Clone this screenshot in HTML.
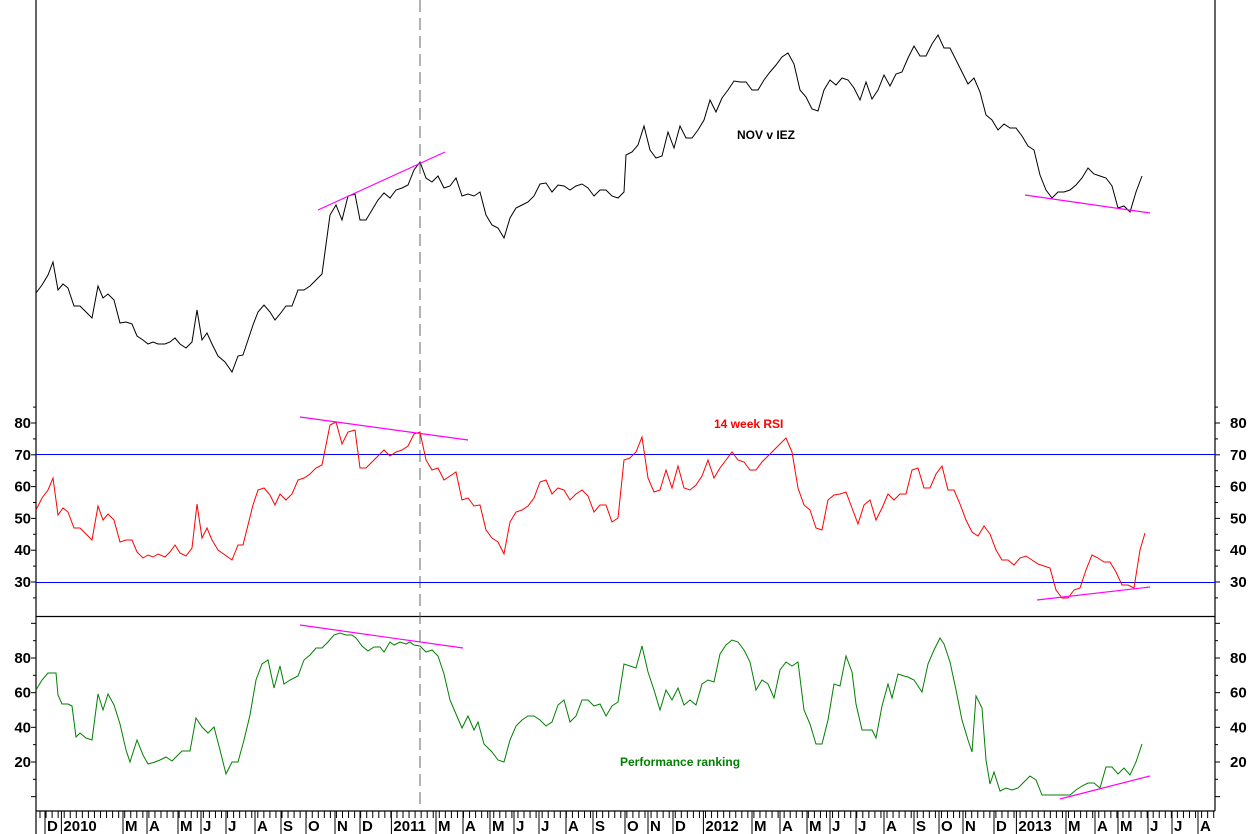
<!DOCTYPE html>
<html><head><meta charset="utf-8"><style>
body{margin:0;background:#fff}svg{display:block}
text{font-family:"Liberation Sans",Arial,sans-serif;font-weight:bold}
</style></head><body>
<svg id="s" width="1250" height="834" xmlns="http://www.w3.org/2000/svg">
<rect width="1250" height="834" fill="#fff"/>
<g stroke="#000" stroke-width="1.2" fill="none">
<line x1="36" y1="0" x2="36" y2="834"/>
<line x1="1215" y1="0" x2="1215" y2="811"/>
<line x1="36" y1="616.5" x2="1215" y2="616.5"/>
<line x1="36" y1="811" x2="1215" y2="811"/>
</g>
<line x1="420" y1="0" x2="420" y2="811" stroke="#666" stroke-dasharray="12,6"/>
<g stroke="#0000ff" stroke-width="1"><line x1="36" y1="454.5" x2="1215" y2="454.5"/><line x1="36" y1="582.5" x2="1215" y2="582.5"/></g>
<g id="ticks" stroke="#000" stroke-width="1"></g>
<g id="labels" font-size="15" fill="#000"></g>
<polyline fill="none" stroke="#000" stroke-width="1" points="36,293 42,285 48,275 53,262 58,290 63,284 68,288 74,306 80,306 86,312 92,318 98,286 103,298 108,294 114,300 120,323 126,322 132,324 137,336 143,340 148,344 153,342 158,344 165,344 170,342 175,338 180,344 186,348 192,342 197,310 202,340 207,333 212,344 218,356 225,362 232,372 238,356 243,355 248,340 253,325 258,312 264,305 270,312 275,320 280,314 286,306 292,306 298,290 304,290 310,286 316,280 322,274 330,215 336,205 342,220 348,196 355,194 360,220 366,220 372,210 378,200 384,193 390,198 396,190 402,188 408,185 414,170 420,162 426,178 432,182 438,176 444,188 450,186 456,178 462,196 468,194 474,196 480,192 486,215 492,225 498,228 504,238 510,218 516,208 522,205 528,202 534,196 540,184 546,183 552,192 558,185 564,186 570,190 576,186 582,184 588,188 594,196 600,190 606,190 612,196 618,198 624,192 626,155 632,152 638,145 644,126 650,150 656,158 662,156 668,132 674,148 680,126 686,138 692,138 698,130 704,120 710,100 716,112 722,98 728,90 734,81 740,82 746,82 752,90 758,90 764,80 770,72 776,65 782,57 788,53 794,64 800,90 806,97 812,109 818,111 824,90 830,80 836,85 842,78 848,80 854,88 860,100 866,82 872,99 878,90 884,75 890,86 896,74 902,72 908,58 914,46 920,56 926,56 932,44 938,35 944,48 950,48 956,60 962,72 968,84 974,78 980,92 986,115 992,120 998,130 1004,124 1010,128 1016,128 1022,136 1028,146 1034,150 1040,175 1046,190 1052,198 1058,192 1064,192 1070,190 1076,185 1082,178 1088,168 1094,174 1100,176 1106,178 1112,186 1118,208 1124,206 1130,212 1136,192 1142,176"/>
<polyline fill="none" stroke="#ff0000" stroke-width="1" points="36,510 42,498 48,490 53,478 58,515 63,508 68,512 74,528 80,528 86,534 92,540 98,506 103,520 108,514 114,520 120,542 126,540 132,540 137,552 143,558 148,555 153,557 158,554 165,557 170,552 175,545 180,553 186,556 192,548 197,504 202,538 207,528 212,540 218,550 225,555 232,560 238,545 243,545 248,525 253,505 258,490 264,488 270,495 275,505 280,494 286,500 292,494 298,480 304,478 310,474 316,468 322,465 330,425 336,422 342,444 348,432 355,430 360,468 366,468 372,462 378,456 384,450 390,456 396,452 402,450 408,446 414,434 420,432 426,460 432,470 438,468 444,480 450,476 456,472 462,500 468,498 474,506 480,505 486,530 492,538 498,542 504,554 510,522 516,512 522,510 528,506 534,498 540,482 546,480 552,494 558,488 564,490 570,500 576,494 582,490 588,496 594,512 600,505 606,505 612,522 618,518 624,460 630,458 636,452 642,437 648,478 654,492 660,490 666,470 672,488 678,466 684,488 690,490 696,485 702,476 708,460 714,478 720,468 726,460 732,452 738,460 744,462 750,470 756,470 762,462 768,456 774,450 780,444 786,438 792,452 798,488 804,505 810,510 816,528 822,530 828,500 834,495 840,494 846,492 852,508 858,524 864,505 870,500 876,520 882,508 888,494 894,500 900,494 906,494 912,470 918,468 924,488 930,488 936,474 942,466 948,490 954,490 960,504 966,520 972,532 978,536 984,526 990,534 996,550 1002,560 1008,560 1014,565 1020,558 1026,556 1032,560 1038,564 1044,566 1050,568 1056,590 1062,598 1068,598 1074,590 1080,588 1086,570 1092,555 1098,558 1104,562 1110,562 1116,572 1122,585 1128,585 1134,588 1140,550 1145,533"/>
<polyline fill="none" stroke="#008000" stroke-width="1" points="36,690 42,680 48,673 56,673 58,695 62,704 68,704 72,706 76,737 80,733 86,738 92,740 98,694 103,710 108,694 114,705 120,724 126,750 130,762 137,740 143,755 148,764 155,762 160,760 166,757 172,761 178,755 182,751 190,751 196,718 202,727 208,733 214,727 220,750 226,774 232,762 238,762 244,740 250,715 256,680 262,664 268,660 274,688 280,666 284,684 290,680 298,676 304,660 310,655 316,648 322,648 328,642 334,635 340,633 346,635 352,635 356,638 362,646 368,651 374,647 380,647 384,652 390,642 394,645 400,642 406,644 410,642 414,645 420,646 426,652 432,650 438,656 444,674 450,700 456,714 462,728 468,716 474,730 478,722 484,744 492,752 498,760 504,762 510,740 516,726 522,720 528,716 534,716 540,720 546,726 552,722 558,705 564,700 570,722 576,716 582,700 588,700 594,706 600,704 606,716 612,706 618,702 624,664 630,666 636,668 642,646 648,672 654,690 660,710 666,690 672,700 678,688 684,705 690,700 696,705 702,684 708,680 714,682 720,654 726,645 732,640 738,642 744,650 750,662 756,690 762,680 768,684 774,698 780,670 786,662 792,666 798,662 804,710 810,724 816,744 822,744 828,720 834,684 840,686 846,656 852,672 856,704 862,730 868,730 872,730 876,738 882,706 888,684 892,698 898,674 904,676 908,677 914,680 922,692 928,664 934,650 940,638 944,644 950,662 956,690 962,720 968,740 972,752 976,696 982,708 986,760 990,784 994,772 1000,791 1006,788 1012,790 1018,788 1024,782 1030,776 1036,780 1042,795 1070,795 1076,790 1082,786 1088,783 1094,783 1100,788 1106,767 1112,767 1118,774 1124,768 1130,775 1136,762 1142,744"/>
<g stroke="#ff00ff" stroke-width="1.2">
<line x1="318" y1="210" x2="445" y2="152"/><line x1="1025" y1="195" x2="1150" y2="213"/>
<line x1="300" y1="417" x2="468" y2="440"/><line x1="1037" y1="600" x2="1150" y2="587"/>
<line x1="300" y1="625" x2="463" y2="648"/><line x1="1060" y1="799" x2="1150" y2="776"/>
</g>
<text x="737" y="139" font-size="12" fill="#000">NOV v IEZ</text>
<text x="714" y="428" font-size="12" fill="#ff0000">14 week RSI</text>
<text x="620" y="766" font-size="12" fill="#008000">Performance ranking</text>
</svg>
<script>
var NS="http://www.w3.org/2000/svg",T=document.getElementById("ticks"),L=document.getElementById("labels");
function ln(a,b,c,d){var e=document.createElementNS(NS,"line");e.setAttribute("x1",a);e.setAttribute("y1",b);e.setAttribute("x2",c);e.setAttribute("y2",d);T.appendChild(e);}
function tx(x,y,s,anc){var e=document.createElementNS(NS,"text");e.setAttribute("x",x);e.setAttribute("y",y);e.textContent=s;if(anc)e.setAttribute("text-anchor",anc);L.appendChild(e);}
for(var v=25;v<=85;v+=5){var y=423+(80-v)*3.18;var big=v%10==0;ln(36-(big?5:3),y,36,y);ln(1215,y,1215+(big?5:3),y);if(big&&v>=30&&v<=80){tx(31,y+5,v,"end");tx(1230,y+5,v);}}
for(var v=0;v<=100;v+=10){var y=658+(80-v)*1.733;var big=v%20==0;ln(36-(big?5:3),y,36,y);ln(1215,y,1215+(big?5:3),y);if(big&&v>=20&&v<=80){tx(31,y+5,v,"end");tx(1230,y+5,v);}}
var m=[[52,"D"],[80,"2010"],[131,"M"],[154,"A"],[186,"M"],[208,"J"],[233,"J"],[262,"A"],[288,"S"],[313,"O"],[342,"N"],[367,"D"],[410,"2011"],[444,"M"],[470,"A"],[498,"M"],[521,"J"],[546,"J"],[573,"A"],[600,"S"],[632,"O"],[655,"N"],[680,"D"],[722,"2012"],[760,"M"],[787,"A"],[815,"M"],[837,"J"],[863,"J"],[891,"A"],[921,"S"],[946,"O"],[970,"N"],[1001,"D"],[1035,"2013"],[1074,"M"],[1102,"A"],[1126,"M"],[1155,"J"],[1179,"J"],[1205,"A"]];
for(var x=40;x<1215;x+=6.05)ln(x,811,x,818);
m.forEach(function(a){var w=a[1].length>1?a[1].length*8.3:(a[1]=="M"?12:10);var x=a[0]-w/2-2;ln(x,811,x,834);tx(x+2,831,a[1]);});
</script>
</body></html>
